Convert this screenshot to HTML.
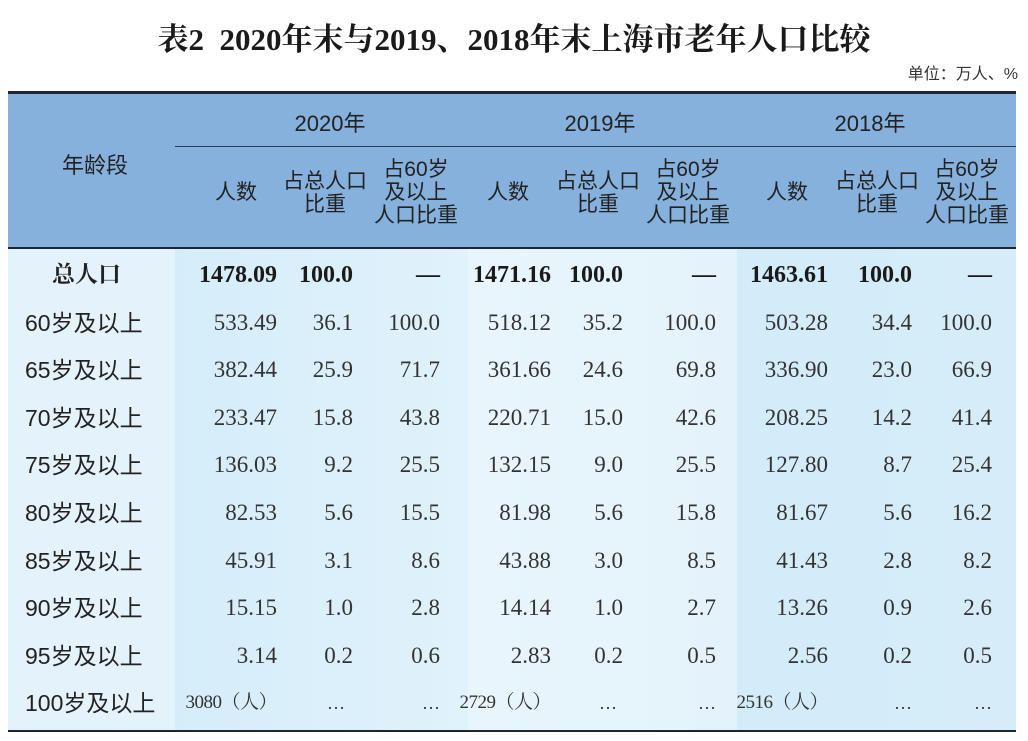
<!DOCTYPE html>
<html><head><meta charset="utf-8"><style>
body{margin:0;width:1028px;height:741px;background:#fff;position:relative;overflow:hidden;font-family:"Liberation Serif","Noto Serif CJK SC",serif;color:#222}
.a{position:absolute;white-space:nowrap}
.t{left:0;width:1028px;top:14px;text-align:center;font-size:31px;font-weight:bold;font-family:"Liberation Serif","Noto Serif CJK SC",serif;color:#1a1a1a}
.s{font-family:"Liberation Sans","Noto Sans CJK SC",sans-serif}
.h{font-size:21px;line-height:23px;text-align:center;color:#222}
.n{font-size:23px;text-align:right;width:140px;line-height:26px;color:#333}
.l{font-size:23px;left:25px;line-height:26px;font-family:"Liberation Sans","Noto Sans CJK SC",sans-serif;color:#222}
</style></head><body>
<div class="a t">表2&nbsp;&nbsp;2020年末与2019、2018年末上海市老年人口比较</div>
<div class="a s" style="right:10px;top:60px;font-size:16px;color:#333">单位：万人、%</div>
<div class="a" style="left:8px;top:91px;width:1008px;height:3px;background:#1c2530"></div>
<div class="a" style="left:8px;top:94px;width:1008px;height:153px;background:#86b1dd"></div>
<div class="a" style="left:175px;top:146px;width:841px;height:1px;background:#2a3a50"></div>
<div class="a" style="left:8px;top:247px;width:1008px;height:2px;background:#1c2530"></div>
<div class="a" style="left:8px;top:249px;width:167px;height:481px;background:#e4f3fb"></div>
<div class="a" style="left:175px;top:249px;width:293px;height:481px;background:linear-gradient(90deg,#d5edfa,#e0f2fb)"></div>
<div class="a" style="left:468px;top:249px;width:269px;height:481px;background:linear-gradient(90deg,#e8f5fc,#e4f3fb)"></div>
<div class="a" style="left:737px;top:249px;width:279px;height:481px;background:linear-gradient(90deg,#d3ecf9,#d6edf9)"></div>
<div class="a" style="left:8px;top:730px;width:1008px;height:2px;background:#1c2530"></div>

<div class="a s h" style="left:50px;top:154px;width:90px;font-size:22px">年龄段</div>
<div class="a s h" style="left:280px;top:112px;width:100px;font-size:22px">2020年</div>
<div class="a s h" style="left:550px;top:112px;width:100px;font-size:22px">2019年</div>
<div class="a s h" style="left:820px;top:112px;width:100px;font-size:22px">2018年</div>

<div class="a s h" style="left:196px;top:181px;width:80px">人数</div>
<div class="a s h" style="left:275px;top:170px;width:100px">占总人口<br>比重</div>
<div class="a s h" style="left:366px;top:158px;width:100px">占60岁<br>及以上<br>人口比重</div>
<div class="a s h" style="left:468px;top:181px;width:80px">人数</div>
<div class="a s h" style="left:548px;top:170px;width:100px">占总人口<br>比重</div>
<div class="a s h" style="left:638px;top:158px;width:100px">占60岁<br>及以上<br>人口比重</div>
<div class="a s h" style="left:747px;top:181px;width:80px">人数</div>
<div class="a s h" style="left:827px;top:170px;width:100px">占总人口<br>比重</div>
<div class="a s h" style="left:917px;top:158px;width:100px">占60岁<br>及以上<br>人口比重</div>

<div id="rows"></div>
<script>
var d=[
["总人口","1478.09","100.0","—","1471.16","100.0","—","1463.61","100.0","—"],
["60岁及以上","533.49","36.1","100.0","518.12","35.2","100.0","503.28","34.4","100.0"],
["65岁及以上","382.44","25.9","71.7","361.66","24.6","69.8","336.90","23.0","66.9"],
["70岁及以上","233.47","15.8","43.8","220.71","15.0","42.6","208.25","14.2","41.4"],
["75岁及以上","136.03","9.2","25.5","132.15","9.0","25.5","127.80","8.7","25.4"],
["80岁及以上","82.53","5.6","15.5","81.98","5.6","15.8","81.67","5.6","16.2"],
["85岁及以上","45.91","3.1","8.6","43.88","3.0","8.5","41.43","2.8","8.2"],
["90岁及以上","15.15","1.0","2.8","14.14","1.0","2.7","13.26","0.9","2.6"],
["95岁及以上","3.14","0.2","0.6","2.83","0.2","0.5","2.56","0.2","0.5"],
["100岁及以上","3080（人）","…","…","2729（人）","…","…","2516（人）","…","…"]];
var rx=[277,353,440,551,623,716,828,912,992];
var ex=[277,345,440,551,617,716,828,912,992];
var h="";
d.forEach(function(r,i){
 var y=262+i*47.6;
 if(i==0) h+='<div class="a" style="left:52px;top:'+(y)+'px;font-size:23px;font-weight:bold;line-height:26px">总人口</div>';
 else h+='<div class="a l" style="top:'+(y)+'px">'+r[0]+'</div>';
 for(var j=1;j<10;j++){
  var v=r[j],R=rx[j-1],st='';
  if(i==0) st='font-weight:bold;font-size:24px;color:#1a1a1a;';
  if(i==9){ if(j%3==1) st='font-size:19px;letter-spacing:-0.5px;'; else {R=ex[j-1]; st='font-size:18px;';} }
  h+='<div class="a n" style="left:'+(R-140)+'px;top:'+y+'px;'+st+'">'+v+'</div>';
 }
});
document.getElementById('rows').innerHTML=h;
</script>
</body></html>
